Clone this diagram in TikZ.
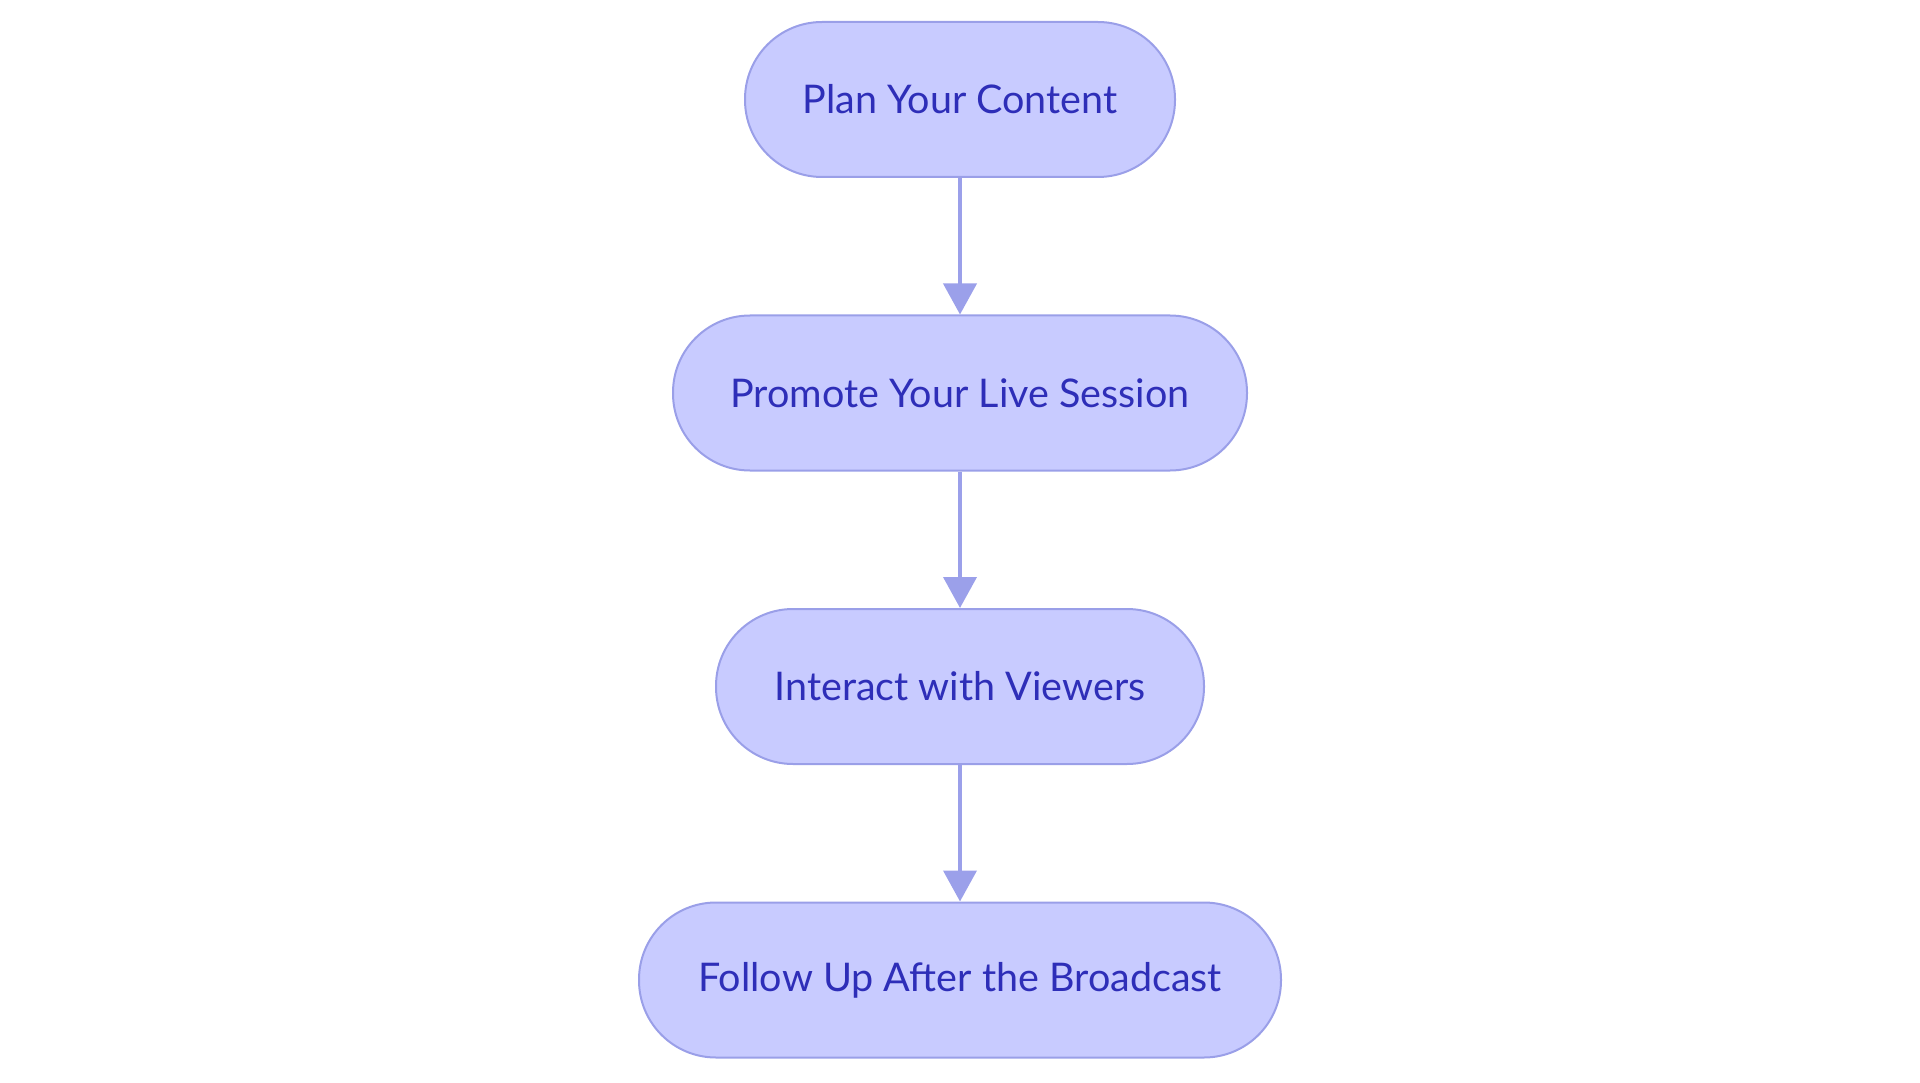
\documentclass[tikz,border=0pt]{standalone}
\usepackage{fontspec}
\setmainfont{Lato}
\usetikzlibrary{arrows.meta}
\definecolor{nodefill}{HTML}{C8CBFF}
\definecolor{nodeborder}{HTML}{9A9FE8}
\definecolor{nodetext}{HTML}{2E2EB8}
\definecolor{arrowcol}{HTML}{9BA0EA}
\tikzset{
  stepbox/.style={draw=nodeborder, fill=nodefill, line width=2pt, rounded corners=77pt,
    minimum height=155pt, inner sep=0pt, text=nodetext, font=\fontsize{39.5}{46}\selectfont},
  flow/.style={draw=arrowcol, line width=4pt, -{Triangle[width=33pt,length=31pt]}}
}
\begin{document}
\begin{tikzpicture}
\useasboundingbox (0,0) rectangle (1920pt,-1083pt);
\node[stepbox, minimum width=430pt] (a) at (960pt,-99.5pt) {Plan Your Content};
\node[stepbox, minimum width=574pt] (b) at (960pt,-393pt) {Promote Your Live Session};
\node[stepbox, minimum width=488pt] (c) at (960pt,-686.5pt) {Interact with Viewers};
\node[stepbox, minimum width=642pt] (d) at (960pt,-980pt) {Follow Up After the Broadcast};
\draw[flow] (a) -- (b);
\draw[flow] (b) -- (c);
\draw[flow] (c) -- (d);
\end{tikzpicture}
\end{document}
